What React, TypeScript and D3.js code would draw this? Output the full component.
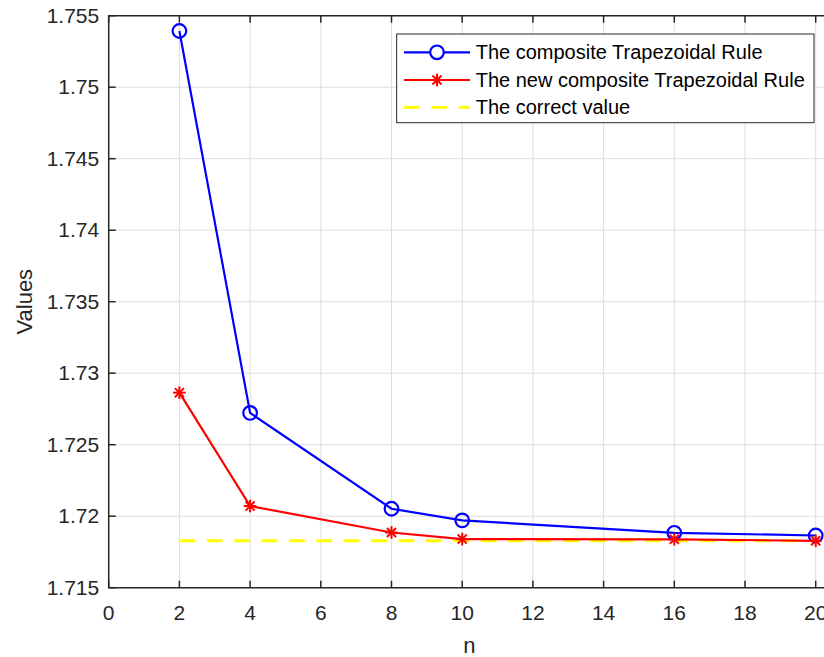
import { useEffect, useRef } from 'react'
import * as d3 from 'd3'

const nValues = [2, 4, 8, 10, 16, 20]
const trapezoid = [1.75393, 1.72722, 1.72052, 1.71971, 1.71884, 1.71865]
const newTrapezoid = [1.72864, 1.72071, 1.71886, 1.71840, 1.71838, 1.71828]
const correctValue = 1.718282
const xTicks = [0, 2, 4, 6, 8, 10, 12, 14, 16, 18, 20]
const yTicks = [1.715, 1.72, 1.725, 1.73, 1.735, 1.74, 1.745, 1.75, 1.755]
const legendLabels = [
  'The composite Trapezoidal Rule',
  'The new composite Trapezoidal Rule',
  'The correct value',
]

export default function App() {
  const svgRef = useRef<SVGSVGElement>(null)

  useEffect(() => {
    if (!svgRef.current) return
    const width = 824
    const height = 657
    const left = 108.7
    const top = 15.7
    const bottom = 587.7
    const rightEdge = 830 // box runs off the canvas

    const svg = d3.select(svgRef.current)
    svg.selectAll('*').remove()
    svg.attr('width', width).attr('height', height)

    const x = d3.scaleLinear().domain([0, 20]).range([left, 815.7])
    const y = d3.scaleLinear().domain([1.715, 1.755]).range([bottom, top])

    const font = 'Arial, "Liberation Sans", Helvetica, sans-serif'
    const axisColor = '#262626'

    svg.append('rect').attr('width', width).attr('height', height).attr('fill', '#fff')

    // grid
    const grid = svg.append('g').attr('stroke', '#dedede').attr('stroke-width', 1)
    xTicks.forEach(t => {
      grid.append('line').attr('x1', x(t)).attr('x2', x(t)).attr('y1', top).attr('y2', bottom)
    })
    yTicks.forEach(t => {
      grid.append('line').attr('x1', left).attr('x2', rightEdge).attr('y1', y(t)).attr('y2', y(t))
    })

    // box
    const box = svg.append('g').attr('stroke', axisColor).attr('stroke-width', 1.5).attr('fill', 'none')
    box.append('path').attr('d', `M${rightEdge},${top}H${left}V${bottom}H${rightEdge}`)

    // ticks
    xTicks.forEach(t => {
      box.append('line').attr('x1', x(t)).attr('x2', x(t)).attr('y1', bottom).attr('y2', bottom - 7)
      box.append('line').attr('x1', x(t)).attr('x2', x(t)).attr('y1', top).attr('y2', top + 7)
    })
    yTicks.forEach(t => {
      box.append('line').attr('x1', left).attr('x2', left + 7).attr('y1', y(t)).attr('y2', y(t))
    })

    // tick labels
    const labels = svg.append('g').style('font-family', font).style('font-size', '21px').attr('fill', axisColor)
    xTicks.forEach(t => {
      labels.append('text').attr('x', x(t)).attr('y', bottom + 32).attr('text-anchor', 'middle').text(String(t))
    })
    yTicks.forEach(t => {
      labels.append('text').attr('x', left - 9.5).attr('y', y(t) + 7).attr('text-anchor', 'end').text(String(t))
    })

    svg.append('text')
      .attr('x', (left + rightEdge) / 2).attr('y', 653)
      .attr('text-anchor', 'middle')
      .style('font-family', font).style('font-size', '22px').attr('fill', axisColor)
      .text('n')

    svg.append('text')
      .attr('transform', `translate(32, ${(top + bottom) / 2}) rotate(-90)`)
      .attr('text-anchor', 'middle')
      .style('font-family', font).style('font-size', '22px').attr('fill', axisColor)
      .text('Values')

    // correct value
    svg.append('line')
      .attr('x1', x(2)).attr('x2', x(20))
      .attr('y1', y(correctValue)).attr('y2', y(correctValue))
      .attr('stroke', '#ffff00').attr('stroke-width', 2.8).attr('stroke-dasharray', '15.7,11.7')

    const line = d3.line<number>().x((_, i) => x(nValues[i])).y(d => y(d))

    // new rule (red)
    svg.append('path').datum(newTrapezoid).attr('d', line)
      .attr('fill', 'none').attr('stroke', '#ff0000').attr('stroke-width', 2.2)

    // old rule (blue)
    svg.append('path').datum(trapezoid).attr('d', line)
      .attr('fill', 'none').attr('stroke', '#0000ff').attr('stroke-width', 2.2)

    const star = (g: any, cx: number, cy: number, r: number, color: string) => {
      const s = g.append('g').attr('stroke', color).attr('stroke-width', 2)
      s.append('line').attr('x1', cx - r).attr('x2', cx + r).attr('y1', cy).attr('y2', cy)
      s.append('line').attr('x1', cx).attr('x2', cx).attr('y1', cy - r).attr('y2', cy + r)
      const d = r * 0.72
      s.append('line').attr('x1', cx - d).attr('x2', cx + d).attr('y1', cy - d).attr('y2', cy + d)
      s.append('line').attr('x1', cx - d).attr('x2', cx + d).attr('y1', cy + d).attr('y2', cy - d)
    }

    trapezoid.forEach((v, i) => {
      svg.append('circle').attr('cx', x(nValues[i])).attr('cy', y(v)).attr('r', 6.8)
        .attr('fill', 'none').attr('stroke', '#0000ff').attr('stroke-width', 2.2)
    })
    newTrapezoid.forEach((v, i) => {
      star(svg, x(nValues[i]), y(v), 6.3, '#ff0000')
    })

    // legend
    const lg = svg.append('g')
    lg.append('rect').attr('x', 396.7).attr('y', 34).attr('width', 417.3).attr('height', 88.7)
      .attr('fill', '#fff').attr('stroke', axisColor).attr('stroke-width', 1)
    const rowY = [52.3, 80, 107.3]
    const colors = ['#0000ff', '#ff0000', '#ffff00']
    legendLabels.forEach((label, i) => {
      const ly = rowY[i]
      const l = lg.append('line').attr('x1', 404).attr('x2', 470).attr('y1', ly).attr('y2', ly)
        .attr('stroke', colors[i]).attr('stroke-width', i === 2 ? 2.8 : 2.2)
      if (i === 2) l.attr('stroke-dasharray', '15.7,11.7')
      if (i === 0) {
        lg.append('circle').attr('cx', 437).attr('cy', ly).attr('r', 6.8)
          .attr('fill', '#fff').attr('stroke', '#0000ff').attr('stroke-width', 2.2)
      }
      if (i === 1) star(lg, 437, ly, 6.3, '#ff0000')
      lg.append('text').attr('x', 475.7).attr('y', ly + 7)
        .style('font-family', font).style('font-size', '20px').attr('fill', '#000')
        .text(label)
    })
  }, [])

  return <svg ref={svgRef} style={{ display: 'block', position: 'absolute', left: 0, top: 0 }}></svg>
}
